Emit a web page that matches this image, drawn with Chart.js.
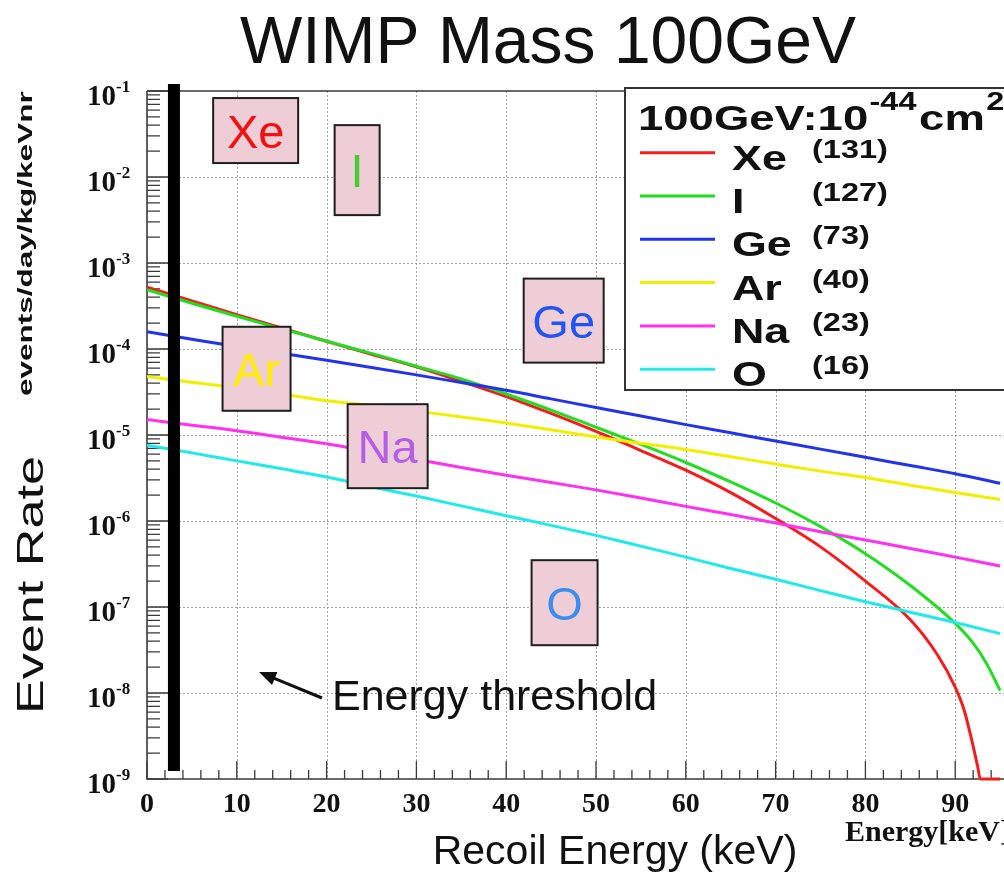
<!DOCTYPE html>
<html>
<head>
<meta charset="utf-8">
<script src="https://cdn.jsdelivr.net/npm/chart.js@4.4.1/dist/chart.umd.min.js"></script>
<style>
  html, body { margin: 0; padding: 0; background: #ffffff; }
  body { width: 1004px; height: 879px; overflow: hidden; }
  canvas { display: block; }
</style>
</head>
<body>
<canvas id="rate" width="1060" height="879"></canvas>
<script>
// Recoil energy grid (keV) shared by the smooth light-target spectra
const energy = [0, 5, 10, 15, 20, 25, 30, 35, 40, 45, 50, 55, 60, 65, 70, 75, 80, 85, 90, 95];

// Xe spectrum: falls to zero near 93 keV (shown on the lower frame)
const energyXe = [0, 5, 10, 15, 20, 25, 30, 35, 40, 45, 50, 55, 60, 65, 70, 75, 80, 85, 88, 90, 91, 92, 92.5, 92.8, 93, 94, 95];
const rateXe = [5.25e-4, 3.63e-4, 2.51e-4, 1.76e-4, 1.23e-4, 8.7e-5, 6.2e-5, 4.2e-5, 2.8e-5, 1.78e-5, 1.10e-5, 6.6e-6, 3.9e-6, 2.14e-6, 1.07e-6, 5.0e-7, 2.0e-7, 7.1e-8, 2.8e-8, 1.17e-8, 6.3e-9, 2.4e-9, 1.4e-9, 1.0e-9, 1.0e-9, 1.0e-9, 1.0e-9];

// I spectrum
const energyI = [0, 5, 10, 15, 20, 25, 30, 35, 40, 45, 50, 55, 60, 65, 70, 75, 80, 85, 90, 92, 93.5, 95];
const rateI = [4.9e-4, 3.4e-4, 2.40e-4, 1.72e-4, 1.23e-4, 8.9e-5, 6.3e-5, 4.5e-5, 3.0e-5, 1.95e-5, 1.23e-5, 7.76e-6, 4.79e-6, 2.85e-6, 1.62e-6, 8.6e-7, 4.17e-7, 1.78e-7, 6.46e-8, 3.8e-8, 2.19e-8, 1.07e-8];

// Ge, Ar, Na, O spectra on the shared grid
const rateGe = [1.585e-4, 1.30e-4, 1.07e-4, 8.9e-5, 7.4e-5, 6.1e-5, 5.0e-5, 4.07e-5, 3.31e-5, 2.63e-5, 2.09e-5, 1.66e-5, 1.32e-5, 1.06e-5, 8.5e-6, 6.85e-6, 5.5e-6, 4.42e-6, 3.55e-6, 2.75e-6];
const rateAr = [4.8e-5, 4.1e-5, 3.55e-5, 3.0e-5, 2.5e-5, 2.2e-5, 1.9e-5, 1.62e-5, 1.38e-5, 1.15e-5, 9.5e-6, 8.0e-6, 6.8e-6, 5.6e-6, 4.6e-6, 3.8e-6, 3.2e-6, 2.6e-6, 2.15e-6, 1.78e-6];
const rateNa = [1.51e-5, 1.30e-5, 1.12e-5, 9.4e-6, 7.9e-6, 6.4e-6, 5.2e-6, 4.2e-6, 3.4e-6, 2.8e-6, 2.3e-6, 1.85e-6, 1.48e-6, 1.19e-6, 9.5e-7, 7.5e-7, 6.0e-7, 4.8e-7, 3.8e-7, 3.0e-7];
const rateO = [7.6e-6, 6.2e-6, 5.0e-6, 4.05e-6, 3.25e-6, 2.5e-6, 1.95e-6, 1.5e-6, 1.15e-6, 8.9e-7, 6.8e-7, 5.1e-7, 3.8e-7, 2.8e-7, 2.1e-7, 1.55e-7, 1.15e-7, 8.7e-8, 6.6e-8, 4.9e-8];

// Targets, their mass numbers and line colours
const targets = ['Xe', 'I', 'Ge', 'Ar', 'Na', 'O'];
const massNumbers = ['(131)', '(127)', '(73)', '(40)', '(23)', '(16)'];
const lineColors = ['#f41c1c', '#22dd22', '#2233ee', '#f2ee00', '#ff30ee', '#1eeaea'];

// Axis ticks
const energyTicks = [0, 10, 20, 30, 40, 50, 60, 70, 80, 90];
const decadeExponents = [-1, -2, -3, -4, -5, -6, -7, -8, -9];

// Energy threshold (keV)
const threshold = 3;

const SANS = '"Liberation Sans", Arial, Helvetica, sans-serif';
const SERIF = '"Liberation Serif", "Times New Roman", serif';

function pts(xs, ys) { return xs.map((x, i) => ({ x: x, y: ys[i] })); }

const series = [
  pts(energyXe, rateXe),
  pts(energyI, rateI),
  pts(energy, rateGe),
  pts(energy, rateAr),
  pts(energy, rateNa),
  pts(energy, rateO)
];

// Labelled boxes placed on the plot (centre in energy / rate, size in px)
const tags = [
  { text: 'Xe', e: 12.1, r: Math.pow(10, -1.46), w: 85, h: 65, color: '#f21010' },
  { text: 'I',  e: 23.4, r: Math.pow(10, -1.92), w: 45, h: 90, color: '#44cc33' },
  { text: 'Ge', e: 46.4, r: Math.pow(10, -3.67), w: 80, h: 84, color: '#1f55f5' },
  { text: 'Ar', e: 12.2, r: Math.pow(10, -4.23), w: 68, h: 84, color: '#ffee00' },
  { text: 'Na', e: 26.8, r: Math.pow(10, -5.13), w: 80, h: 84, color: '#b45ee8' },
  { text: 'O',  e: 46.5, r: Math.pow(10, -6.95), w: 66, h: 85, color: '#3a8ef0' }
];

const decor = {
  id: 'decor',
  beforeDraw(chart) {
    const ctx = chart.ctx;
    ctx.save();
    ctx.fillStyle = '#ffffff';
    ctx.fillRect(0, 0, chart.width, chart.height);
    ctx.restore();
  },
  beforeDatasetsDraw(chart) {
    const ctx = chart.ctx, a = chart.chartArea;
    const xs = chart.scales.x, ys = chart.scales.y;
    ctx.save();
    // dotted grid
    ctx.strokeStyle = '#a0a0a0';
    ctx.lineWidth = 1;
    ctx.setLineDash([2, 2]);
    energyTicks.forEach(v => {
      if (v === 0) return;
      const x = Math.round(xs.getPixelForValue(v)) + 0.5;
      ctx.beginPath(); ctx.moveTo(x, a.top); ctx.lineTo(x, a.bottom); ctx.stroke();
    });
    decadeExponents.forEach(n => {
      if (n === -1 || n === -9) return;
      const y = Math.round(ys.getPixelForValue(Math.pow(10, n))) + 0.5;
      ctx.beginPath(); ctx.moveTo(a.left, y); ctx.lineTo(a.right, y); ctx.stroke();
    });
    ctx.setLineDash([]);
    // frame
    ctx.strokeStyle = '#3a3a3a';
    ctx.lineWidth = 1.6;
    ctx.beginPath();
    ctx.moveTo(a.left, a.top); ctx.lineTo(a.left, a.bottom); ctx.lineTo(a.right, a.bottom);
    ctx.moveTo(a.left, a.top); ctx.lineTo(a.right, a.top);
    ctx.stroke();
    // ticks on the left axis (log minor + decades)
    ctx.lineWidth = 1.3;
    ctx.beginPath();
    for (let n = -9; n <= -1; n++) {
      const yd = ys.getPixelForValue(Math.pow(10, n));
      ctx.moveTo(a.left, yd); ctx.lineTo(a.left + 21, yd);
      if (n < -1) {
        for (let m = 2; m <= 9; m++) {
          const y = ys.getPixelForValue(m * Math.pow(10, n));
          ctx.moveTo(a.left, y); ctx.lineTo(a.left + 13, y);
        }
      }
    }
    // ticks on the bottom axis
    for (let e = 0; e <= 100; e += 2) {
      const x = xs.getPixelForValue(e);
      const len = (e % 10 === 0) ? 18 : 9;
      ctx.moveTo(x, a.bottom); ctx.lineTo(x, a.bottom - len);
    }
    ctx.stroke();
    ctx.restore();
  },
  afterDatasetsDraw(chart) {
    const ctx = chart.ctx, a = chart.chartArea;
    const xs = chart.scales.x, ys = chart.scales.y;
    ctx.save();

    // energy threshold bar
    const xt = xs.getPixelForValue(threshold);
    ctx.fillStyle = '#000000';
    ctx.fillRect(xt - 6, a.top - 7, 12, a.bottom - a.top - 1);

    // labelled target boxes
    tags.forEach(t => {
      const cx = xs.getPixelForValue(t.e), cy = ys.getPixelForValue(t.r);
      ctx.fillStyle = '#efcdd6';
      ctx.fillRect(cx - t.w / 2, cy - t.h / 2, t.w, t.h);
      ctx.strokeStyle = '#1e1e1e';
      ctx.lineWidth = 2;
      ctx.strokeRect(cx - t.w / 2, cy - t.h / 2, t.w, t.h);
      ctx.fillStyle = t.color;
      ctx.font = '47px ' + SANS;
      ctx.textAlign = 'center';
      ctx.textBaseline = 'alphabetic';
      ctx.fillText(t.text, cx, cy + 17);
    });

    // tick labels
    ctx.fillStyle = '#111111';
    ctx.textBaseline = 'alphabetic';
    decadeExponents.forEach(n => {
      const y = ys.getPixelForValue(Math.pow(10, n));
      ctx.font = 'bold 29px ' + SERIF;
      ctx.textAlign = 'right';
      ctx.fillText('10', 116, y + 14);
      ctx.font = 'bold 17px ' + SERIF;
      ctx.textAlign = 'left';
      ctx.fillText(String(n), 116, y + 1);
    });
    ctx.font = 'bold 28px ' + SERIF;
    ctx.textAlign = 'center';
    energyTicks.forEach(v => {
      ctx.fillText(String(v), xs.getPixelForValue(v), 812);
    });

    // legend
    const lx = 625, ly = 88, lw = 420, lh = 302;
    ctx.fillStyle = '#ffffff';
    ctx.fillRect(lx, ly, lw, lh);
    ctx.strokeStyle = '#333333';
    ctx.lineWidth = 2;
    ctx.strokeRect(lx, ly, lw, lh);
    ctx.fillStyle = '#111111';
    ctx.save();
    ctx.translate(638, 130);
    ctx.scale(1.3, 1);
    ctx.textAlign = 'left';
    ctx.font = 'bold 35px ' + SANS;
    let w = ctx.measureText('100GeV:10').width;
    ctx.fillText('100GeV:10', 0, 0);
    ctx.font = 'bold 25px ' + SANS;
    ctx.fillText('-44', w + 1, -20);
    w += ctx.measureText('-44').width + 3;
    ctx.font = 'bold 35px ' + SANS;
    ctx.fillText('cm', w, 0);
    w += ctx.measureText('cm').width + 1;
    ctx.font = 'bold 25px ' + SANS;
    ctx.fillText('2', w, -20);
    ctx.restore();
    targets.forEach((name, i) => {
      const y = 152.7 + 43.3 * i;
      ctx.strokeStyle = lineColors[i];
      ctx.lineWidth = 3;
      ctx.beginPath(); ctx.moveTo(640, y); ctx.lineTo(715, y); ctx.stroke();
      ctx.fillStyle = '#111111';
      ctx.save();
      ctx.translate(732, y + 17);
      ctx.scale(1.28, 1);
      ctx.font = 'bold 35px ' + SANS;
      ctx.textAlign = 'left';
      ctx.fillText(name, 0, 0);
      ctx.restore();
      ctx.save();
      ctx.translate(812, y + 5);
      ctx.scale(1.3, 1);
      ctx.font = 'bold 25px ' + SANS;
      ctx.textAlign = 'left';
      ctx.fillText(massNumbers[i], 0, 0);
      ctx.restore();
    });

    // energy threshold note with arrow
    ctx.strokeStyle = '#111111';
    ctx.fillStyle = '#111111';
    ctx.lineWidth = 3;
    const tx = 322, ty = 698, hx = 259, hy = 672;
    const ang = Math.atan2(hy - ty, hx - tx);
    ctx.beginPath();
    ctx.moveTo(tx, ty);
    ctx.lineTo(hx - 12 * Math.cos(ang), hy - 12 * Math.sin(ang));
    ctx.stroke();
    ctx.beginPath();
    ctx.moveTo(hx, hy);
    ctx.lineTo(hx - 17 * Math.cos(ang) + 7 * Math.sin(ang), hy - 17 * Math.sin(ang) - 7 * Math.cos(ang));
    ctx.lineTo(hx - 17 * Math.cos(ang) - 7 * Math.sin(ang), hy - 17 * Math.sin(ang) + 7 * Math.cos(ang));
    ctx.closePath();
    ctx.fill();
    ctx.font = '43px ' + SANS;
    ctx.textAlign = 'left';
    ctx.fillText('Energy threshold', 332, 710);

    // axis titles
    ctx.font = '41px ' + SANS;
    ctx.textAlign = 'center';
    ctx.fillText('Recoil Energy (keV)', 615, 864);
    ctx.font = 'bold 30px ' + SERIF;
    ctx.textAlign = 'left';
    ctx.fillText('Energy[keV]', 845, 841);

    ctx.save();
    ctx.translate(43, 585);
    ctx.rotate(-Math.PI / 2);
    ctx.scale(1.45, 1);
    ctx.font = '36px ' + SANS;
    ctx.textAlign = 'center';
    ctx.fillText('Event Rate', 0, 0);
    ctx.restore();

    ctx.save();
    ctx.beginPath();
    ctx.rect(0, 88, 140, 400);
    ctx.clip();
    ctx.translate(32, 396);
    ctx.rotate(-Math.PI / 2);
    ctx.scale(1.5, 1);
    ctx.font = 'bold 21px ' + SANS;
    ctx.textAlign = 'left';
    ctx.fillText('events/day/kg/keVnr', 0, 0);
    ctx.restore();

    // title
    ctx.font = '66px ' + SANS;
    ctx.textAlign = 'center';
    ctx.fillText('WIMP Mass 100GeV', 548, 63);

    ctx.restore();
  }
};

new Chart(document.getElementById('rate'), {
  type: 'line',
  data: {
    datasets: targets.map((name, i) => ({
      label: name,
      data: series[i],
      borderColor: lineColors[i],
      backgroundColor: lineColors[i],
      borderWidth: 3,
      pointRadius: 0,
      fill: false,
      cubicInterpolationMode: 'monotone',
      order: targets.length - i,
      clip: { left: 0, top: 0, right: 0, bottom: 3 }
    }))
  },
  options: {
    responsive: false,
    animation: false,
    devicePixelRatio: 1,
    layout: { padding: { left: 147, top: 91, right: 15, bottom: 100 } },
    plugins: { legend: { display: false }, tooltip: { enabled: false }, title: { display: false } },
    scales: {
      x: { type: 'linear', min: 0, max: 100, display: false },
      y: { type: 'logarithmic', min: 1e-9, max: 1e-1, display: false }
    }
  },
  plugins: [decor]
});
</script>
</body>
</html>
